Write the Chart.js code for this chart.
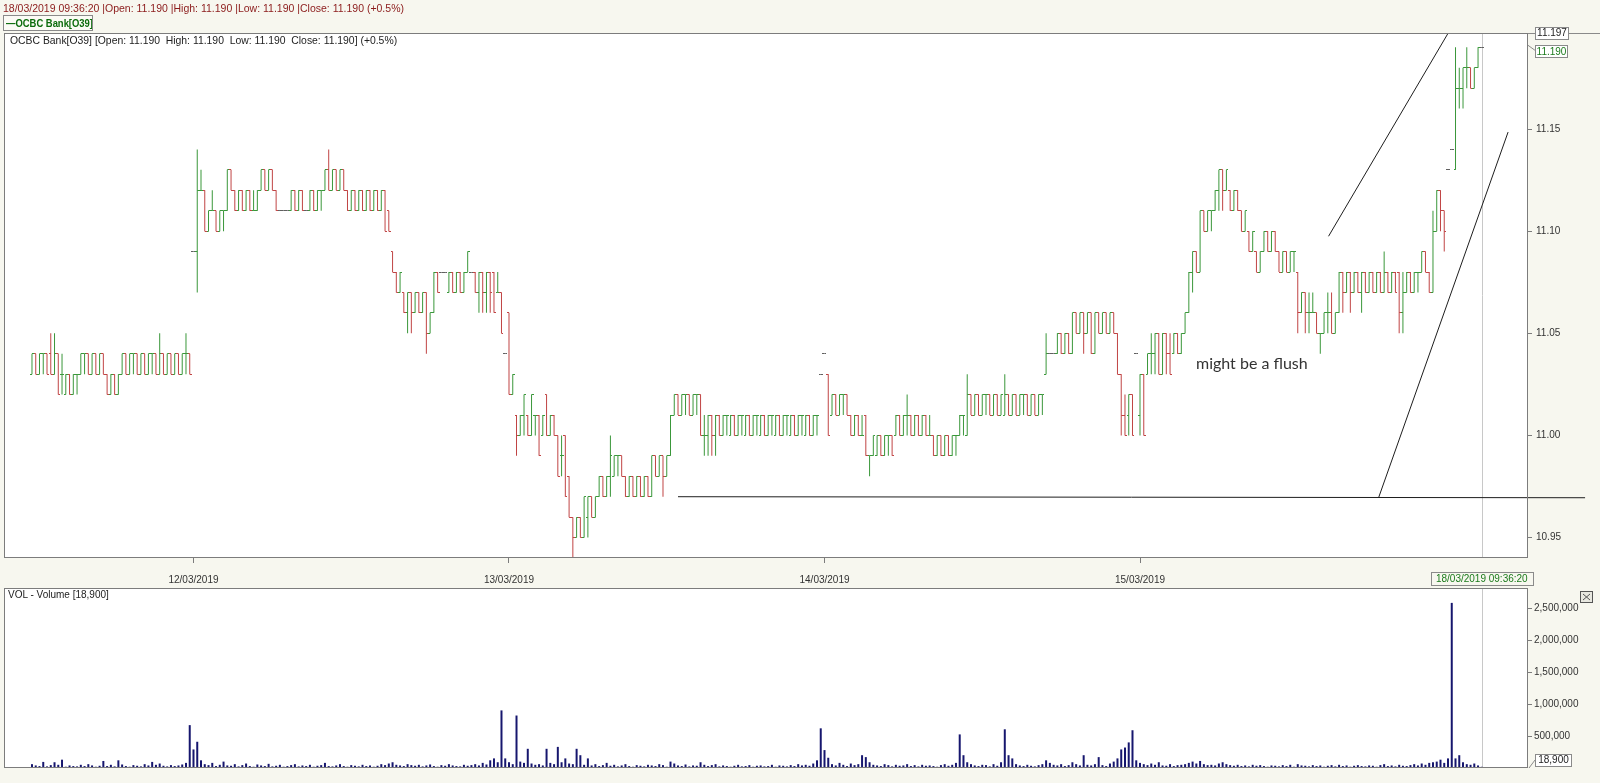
<!DOCTYPE html>
<html>
<head>
<meta charset="utf-8">
<script src="https://cdn.jsdelivr.net/npm/chart.js@4.4.1/dist/chart.umd.min.js"></script>
<style>
  html, body { margin:0; padding:0; }
  body { width:1600px; height:783px; background:#f7f7ef; position:relative; overflow:hidden; font-family:"Liberation Sans", Arial, sans-serif; }
  canvas { position:absolute; left:0; top:0; }
  .t { position:absolute; white-space:pre; z-index:5; }
  #hdr { left:3px; top:2px; font-size:10.5px; color:#8b1a1a; }
  #legend { left:3px; top:15px; width:88px; height:14px; border:1px solid #8a8a8a; background:#fbfbf5; overflow:hidden; }
  #legend span { position:absolute; left:2px; top:0; font-size:11.5px; font-weight:bold; color:#0b6b0b; line-height:14px; transform:scaleX(0.82); transform-origin:0 50%; }
  #info { left:10px; top:35px; font-size:10.4px; color:#222; }
  #vol { left:8px; top:589px; font-size:10px; color:#222; }
</style>
</head>
<body>
<canvas id="c1" width="1600" height="783"></canvas>
<canvas id="c2" width="1600" height="783"></canvas>
<div class="t" id="hdr">18/03/2019 09:36:20 |Open: 11.190 |High: 11.190 |Low: 11.190 |Close: 11.190 (+0.5%)</div>
<div class="t" id="legend"><span>&#8212;OCBC Bank[O39]</span></div>
<div class="t" id="info">OCBC Bank[O39] [Open: 11.190  High: 11.190  Low: 11.190  Close: 11.190] (+0.5%)</div>
<div class="t" id="vol">VOL - Volume [18,900]</div>
<script>
// ---------------- DATA ----------------
const dayLabels = ['12/03/2019', '13/03/2019', '14/03/2019', '15/03/2019'];
const dayTickIdx = [43, 127, 211, 295];
const priceTicks = [10.95, 11.00, 11.05, 11.10, 11.15];
const volTicks = [500000, 1000000, 1500000, 2000000, 2500000];
const crossLabel = '18/03/2019 09:36:20';

// 5-minute bars: [open, high, low, close]
const ohlc_11_03 = [
[11.03,11.04,11.03,11.04],[11.04,11.04,11.03,11.03],[11.03,11.04,11.03,11.04],[11.04,11.04,11.03,11.04],[11.04,11.04,11.03,11.03],
[11.04,11.05,11.03,11.03],[11.03,11.05,11.03,11.04],[11.04,11.04,11.02,11.02],[11.03,11.04,11.02,11.03],[11.02,11.03,11.02,11.03],
[11.03,11.03,11.02,11.02],[11.02,11.03,11.02,11.03],[11.03,11.03,11.02,11.03],[11.03,11.04,11.03,11.04],[11.04,11.04,11.03,11.04],
[11.04,11.04,11.03,11.03],[11.03,11.04,11.03,11.04],[11.04,11.04,11.03,11.03],[11.03,11.04,11.03,11.04],[11.04,11.04,11.03,11.03],
[11.03,11.03,11.02,11.02],[11.02,11.03,11.02,11.03],[11.03,11.03,11.02,11.02],[11.02,11.03,11.02,11.03],[11.03,11.04,11.03,11.04],
[11.04,11.04,11.03,11.03],[11.03,11.04,11.03,11.04],[11.04,11.04,11.03,11.04],[11.04,11.04,11.03,11.03],[11.03,11.04,11.03,11.04],
[11.04,11.04,11.03,11.03],[11.03,11.04,11.03,11.04],[11.04,11.04,11.03,11.04],[11.04,11.04,11.03,11.03],[11.03,11.05,11.03,11.04],
[11.04,11.04,11.03,11.03],[11.03,11.04,11.03,11.04],[11.04,11.04,11.03,11.03],[11.03,11.04,11.03,11.04],[11.04,11.04,11.03,11.03],
[11.03,11.04,11.03,11.04],[11.04,11.05,11.03,11.04],[11.04,11.04,11.03,11.03]
];
const ohlc_12_03 = [
[11.09,11.09,11.09,11.09],[11.09,11.14,11.07,11.12],[11.12,11.13,11.12,11.12],[11.12,11.12,11.10,11.10],[11.10,11.11,11.10,11.11],
[11.11,11.12,11.11,11.11],[11.11,11.11,11.10,11.10],[11.10,11.11,11.10,11.11],[11.11,11.11,11.10,11.11],[11.11,11.13,11.11,11.13],
[11.13,11.13,11.12,11.12],[11.12,11.12,11.11,11.11],[11.11,11.12,11.11,11.12],[11.12,11.12,11.11,11.11],[11.11,11.12,11.11,11.12],
[11.12,11.12,11.11,11.11],[11.11,11.12,11.11,11.11],[11.11,11.12,11.11,11.12],[11.12,11.13,11.12,11.13],[11.13,11.13,11.12,11.12],
[11.12,11.13,11.12,11.13],[11.13,11.13,11.12,11.12],[11.12,11.12,11.11,11.11],[11.11,11.11,11.11,11.11],[11.11,11.11,11.11,11.11],
[11.11,11.11,11.11,11.11],[11.11,11.12,11.11,11.12],[11.12,11.12,11.11,11.11],[11.11,11.12,11.11,11.12],[11.12,11.12,11.11,11.11],
[11.11,11.11,11.11,11.11],[11.11,11.12,11.11,11.12],[11.12,11.12,11.11,11.11],[11.11,11.12,11.11,11.12],[11.12,11.12,11.11,11.12],
[11.12,11.13,11.12,11.13],[11.13,11.14,11.12,11.12],[11.12,11.13,11.12,11.13],[11.13,11.13,11.12,11.12],[11.12,11.13,11.12,11.13],
[11.13,11.13,11.12,11.12],[11.12,11.12,11.11,11.11],[11.11,11.12,11.11,11.12],[11.12,11.12,11.11,11.11],[11.11,11.12,11.11,11.12],
[11.12,11.12,11.11,11.11],[11.11,11.12,11.11,11.12],[11.12,11.12,11.11,11.11],[11.11,11.12,11.11,11.12],[11.12,11.12,11.11,11.11],
[11.11,11.12,11.11,11.12],[11.12,11.12,11.10,11.10],[11.11,11.11,11.10,11.10],[11.09,11.09,11.08,11.08],[11.08,11.08,11.07,11.07],
[11.07,11.08,11.07,11.08],[11.07,11.07,11.06,11.06],[11.06,11.07,11.05,11.07],[11.07,11.07,11.05,11.06],[11.06,11.07,11.06,11.07],
[11.07,11.07,11.06,11.06],[11.06,11.07,11.06,11.07],[11.07,11.07,11.04,11.05],[11.05,11.06,11.05,11.06],[11.06,11.08,11.06,11.08],
[11.08,11.08,11.07,11.07],[11.08,11.08,11.08,11.08],[11.08,11.08,11.08,11.08],[11.07,11.08,11.07,11.08],[11.08,11.08,11.07,11.07],
[11.07,11.08,11.07,11.08],[11.08,11.08,11.07,11.07],[11.07,11.08,11.07,11.08],[11.08,11.09,11.08,11.09],[11.08,11.08,11.08,11.08],
[11.08,11.08,11.07,11.07],[11.07,11.08,11.06,11.08],[11.08,11.08,11.06,11.07],[11.07,11.08,11.06,11.08],[11.08,11.08,11.06,11.07],
[11.08,11.08,11.06,11.06],[11.07,11.08,11.07,11.07],[11.07,11.07,11.05,11.05]
];
const ohlc_13_03 = [
[11.04,11.04,11.04,11.04],[11.06,11.06,11.02,11.02],[11.02,11.03,11.02,11.03],[11.01,11.01,10.99,11.00],[11.00,11.01,11.00,11.01],
[11.01,11.02,11.00,11.02],[11.01,11.01,11.00,11.00],[11.00,11.02,11.00,11.02],[11.01,11.01,11.00,11.01],[11.01,11.01,10.99,10.99],
[11.00,11.01,11.00,11.01],[11.02,11.02,11.00,11.00],[11.00,11.01,11.00,11.01],[11.01,11.01,11.00,11.00],[11.00,11.00,10.98,10.98],
[10.99,11.00,10.98,10.99],[11.00,11.00,10.97,10.97],[10.98,10.98,10.96,10.96],[10.96,10.96,10.94,10.95],[10.95,10.96,10.95,10.96],
[10.96,10.96,10.95,10.95],[10.95,10.97,10.95,10.97],[10.96,10.97,10.95,10.97],[10.97,10.97,10.96,10.96],[10.96,10.97,10.96,10.97],
[10.97,10.98,10.97,10.98],[10.98,10.98,10.97,10.97],[10.97,10.98,10.97,10.98],[10.98,11.00,10.97,10.99],[10.98,10.99,10.98,10.99],
[10.99,10.99,10.98,10.99],[10.99,10.99,10.98,10.98],[10.98,10.98,10.97,10.97],[10.97,10.98,10.97,10.98],[10.98,10.98,10.97,10.97],
[10.97,10.98,10.97,10.98],[10.98,10.98,10.97,10.97],[10.97,10.98,10.97,10.98],[10.98,10.98,10.97,10.97],[10.97,10.99,10.97,10.99],
[10.99,10.99,10.98,10.98],[10.98,10.99,10.98,10.99],[10.99,10.99,10.97,10.98],[10.98,10.99,10.98,10.99],[10.99,11.01,10.99,11.01],
[11.01,11.02,11.01,11.02],[11.02,11.02,11.01,11.01],[11.01,11.02,11.01,11.02],[11.02,11.02,11.01,11.02],[11.02,11.02,11.01,11.01],
[11.01,11.02,11.01,11.02],[11.02,11.02,11.01,11.02],[11.02,11.02,11.00,11.00],[11.00,11.01,10.99,11.00],[11.00,11.01,10.99,11.01],
[11.01,11.01,10.99,11.00],[11.00,11.01,10.99,11.01],[11.01,11.01,11.00,11.00],
[11.00,11.01,11.00,11.01],[11.01,11.01,11.00,11.01],[11.00,11.01,11.00,11.01],[11.01,11.01,11.00,11.00],
[11.00,11.01,11.00,11.01],[11.01,11.01,11.00,11.01],[11.00,11.01,11.00,11.01],[11.01,11.01,11.00,11.00],
[11.00,11.01,11.00,11.01],[11.01,11.01,11.00,11.01],[11.00,11.01,11.00,11.01],[11.01,11.01,11.00,11.00],
[11.00,11.01,11.00,11.01],[11.01,11.01,11.00,11.01],[11.00,11.01,11.00,11.01],[11.01,11.01,11.00,11.00],
[11.00,11.01,11.00,11.01],[11.01,11.01,11.00,11.01],[11.00,11.01,11.00,11.01],[11.01,11.01,11.00,11.00],
[11.00,11.01,11.00,11.01],[11.01,11.01,11.00,11.01],[11.00,11.01,11.00,11.01],[11.01,11.01,11.00,11.00],
[11.00,11.01,11.00,11.01],[11.01,11.01,11.00,11.01],[11.03,11.03,11.03,11.03]
];
const ohlc_14_03 = [
[11.04,11.04,11.04,11.04],[11.03,11.03,11.00,11.00],[11.01,11.02,11.01,11.02],[11.02,11.02,11.01,11.01],[11.01,11.02,11.01,11.02],
[11.02,11.02,11.01,11.02],[11.02,11.02,11.01,11.01],[11.01,11.01,11.00,11.00],[11.00,11.01,11.00,11.01],[11.01,11.01,11.00,11.00],
[11.00,11.01,11.00,11.00],[11.01,11.01,10.99,10.99],[10.99,10.99,10.98,10.99],[10.99,11.00,10.99,11.00],[10.99,11.00,10.99,11.00],
[11.00,11.00,10.99,10.99],[10.99,11.00,10.99,11.00],[11.00,11.00,10.99,11.00],[11.00,11.00,10.99,10.99],[11.00,11.01,11.00,11.01],
[11.01,11.01,11.00,11.00],[11.00,11.01,11.00,11.01],[11.01,11.02,11.00,11.01],[11.01,11.01,11.00,11.00],[11.00,11.01,11.00,11.01],
[11.01,11.01,11.00,11.00],[11.00,11.01,11.00,11.01],[11.01,11.01,11.00,11.00],[11.00,11.01,11.00,11.00],[11.00,11.00,10.99,10.99],
[10.99,11.00,10.99,11.00],[11.00,11.00,10.99,10.99],[10.99,11.00,10.99,11.00],[11.00,11.00,10.99,10.99],[10.99,11.00,10.99,11.00],
[11.00,11.00,10.99,11.00],[11.00,11.01,11.00,11.01],[11.01,11.01,11.00,11.01],[11.00,11.03,11.00,11.02],[11.02,11.02,11.01,11.01],
[11.01,11.02,11.01,11.02],[11.02,11.02,11.01,11.01],[11.01,11.02,11.01,11.02],[11.02,11.02,11.01,11.02],[11.02,11.02,11.01,11.01],
[11.01,11.02,11.01,11.02],[11.02,11.02,11.01,11.01],[11.01,11.02,11.01,11.02],[11.01,11.03,11.01,11.02],[11.02,11.02,11.01,11.01],
[11.01,11.02,11.01,11.02],[11.02,11.02,11.01,11.01],[11.01,11.02,11.01,11.02],[11.02,11.02,11.01,11.02],[11.02,11.02,11.01,11.01],
[11.01,11.02,11.01,11.02],[11.02,11.02,11.01,11.01],[11.01,11.02,11.01,11.02],[11.02,11.02,11.01,11.02],[11.03,11.05,11.03,11.04],
[11.04,11.04,11.04,11.04],[11.04,11.04,11.04,11.04],[11.04,11.05,11.04,11.05],[11.05,11.05,11.04,11.04],[11.04,11.05,11.04,11.05],
[11.05,11.05,11.04,11.04],[11.04,11.06,11.04,11.06],[11.06,11.06,11.05,11.05],[11.05,11.06,11.05,11.06],[11.06,11.06,11.04,11.05],
[11.05,11.06,11.05,11.06],[11.06,11.06,11.04,11.04],[11.04,11.06,11.04,11.06],[11.06,11.06,11.05,11.05],[11.05,11.06,11.05,11.06],
[11.06,11.06,11.05,11.05],[11.05,11.06,11.05,11.06],[11.06,11.06,11.05,11.05],[11.05,11.05,11.03,11.03],[11.03,11.03,11.00,11.01],
[11.01,11.02,11.00,11.00],[11.01,11.02,11.00,11.02],[11.02,11.02,11.00,11.00]
];
const ohlc_15_03 = [
[11.04,11.04,11.04,11.04],[11.01,11.03,11.00,11.03],[11.03,11.03,11.00,11.00],[11.03,11.04,11.03,11.04],[11.04,11.05,11.03,11.04],
[11.04,11.05,11.03,11.05],[11.05,11.05,11.03,11.03],[11.03,11.05,11.03,11.05],[11.05,11.05,11.03,11.04],[11.04,11.05,11.03,11.03],
[11.04,11.05,11.04,11.05],[11.05,11.05,11.04,11.04],[11.04,11.05,11.04,11.05],[11.05,11.06,11.05,11.06],[11.06,11.08,11.06,11.08],
[11.08,11.09,11.07,11.09],[11.09,11.09,11.08,11.08],[11.08,11.11,11.08,11.11],[11.11,11.11,11.10,11.10],[11.10,11.11,11.10,11.11],
[11.11,11.11,11.10,11.11],[11.11,11.12,11.11,11.12],[11.12,11.13,11.11,11.13],[11.13,11.13,11.11,11.12],[11.12,11.13,11.12,11.13],
[11.12,11.12,11.11,11.11],[11.11,11.12,11.11,11.12],[11.12,11.12,11.11,11.11],[11.11,11.11,11.10,11.10],[11.10,11.11,11.10,11.11],
[11.10,11.10,11.09,11.09],[11.09,11.10,11.09,11.10],[11.09,11.09,11.08,11.08],[11.08,11.09,11.08,11.09],[11.09,11.10,11.09,11.10],
[11.10,11.10,11.09,11.09],[11.09,11.10,11.09,11.10],[11.10,11.10,11.09,11.09],[11.09,11.09,11.08,11.08],[11.08,11.09,11.08,11.09],
[11.09,11.09,11.08,11.08],[11.08,11.09,11.08,11.09],[11.09,11.09,11.08,11.09],[11.08,11.08,11.05,11.06],[11.06,11.07,11.06,11.07],
[11.07,11.07,11.05,11.06],[11.06,11.07,11.05,11.06],[11.06,11.07,11.06,11.06],[11.06,11.06,11.05,11.05],[11.05,11.05,11.04,11.05],
[11.05,11.06,11.05,11.06],[11.06,11.07,11.05,11.06],[11.06,11.07,11.05,11.05],[11.05,11.06,11.05,11.06],[11.06,11.08,11.06,11.08],
[11.08,11.08,11.06,11.07],[11.07,11.08,11.07,11.08],[11.08,11.08,11.06,11.07],[11.07,11.08,11.07,11.08],[11.08,11.08,11.07,11.07],
[11.07,11.08,11.06,11.08],[11.08,11.08,11.07,11.07],[11.07,11.08,11.07,11.08],[11.08,11.08,11.07,11.07],[11.07,11.08,11.07,11.08],
[11.08,11.08,11.07,11.07],[11.07,11.09,11.07,11.08],[11.08,11.08,11.07,11.07],[11.07,11.08,11.07,11.08],[11.08,11.08,11.07,11.07],
[11.08,11.08,11.05,11.06],[11.06,11.08,11.05,11.07],[11.07,11.08,11.07,11.08],[11.08,11.08,11.07,11.07],[11.07,11.08,11.07,11.08],
[11.08,11.08,11.07,11.08],[11.08,11.09,11.08,11.09],[11.09,11.09,11.08,11.08],[11.08,11.08,11.07,11.07],[11.07,11.11,11.07,11.10],
[11.10,11.12,11.10,11.12],[11.12,11.12,11.10,11.11],[11.11,11.11,11.09,11.10],[11.13,11.13,11.13,11.13]
];
const ohlc_18_03 = [
[11.14,11.14,11.14,11.14],[11.13,11.19,11.13,11.17],[11.17,11.18,11.16,11.17],[11.17,11.18,11.16,11.18],[11.18,11.19,11.17,11.18],
[11.18,11.18,11.17,11.17],[11.17,11.18,11.17,11.18],[11.18,11.19,11.18,11.19],[11.19,11.19,11.19,11.19]
];

// volume per bar
const vol_11_03 = [60000,40000,30000,95000,25000,45000,90000,50000,130000,20000,
40000,30000,25000,50000,30000,60000,40000,20000,35000,110000,
30000,50000,25000,120000,55000,30000,20000,45000,35000,25000,
60000,40000,95000,50000,70000,35000,25000,45000,30000,40000,
55000,80000,670000];
const vol_12_03 = [290000,410000,120000,60000,45000,80000,30000,50000,100000,40000,
35000,60000,25000,45000,70000,30000,20000,55000,40000,30000,
65000,25000,35000,50000,20000,30000,45000,60000,25000,40000,
30000,50000,20000,35000,45000,80000,30000,25000,40000,60000,
30000,20000,45000,35000,25000,50000,30000,40000,20000,35000,
60000,45000,70000,90000,50000,40000,30000,60000,45000,35000,
50000,25000,40000,55000,30000,20000,45000,35000,60000,40000,
30000,25000,50000,35000,45000,60000,40000,80000,55000,120000,
150000,90000,900000];
const vol_13_03 = [150000,90000,60000,820000,100000,80000,300000,70000,50000,60000,
40000,300000,80000,60000,330000,90000,150000,70000,60000,300000,
200000,50000,150000,40000,60000,30000,45000,80000,35000,50000,
25000,40000,60000,30000,20000,45000,35000,25000,50000,40000,
30000,60000,45000,20000,100000,70000,40000,30000,55000,25000,
40000,35000,90000,50000,30000,45000,60000,25000,40000,30000,
20000,35000,50000,25000,30000,45000,20000,35000,40000,25000,
30000,50000,20000,40000,35000,25000,45000,30000,60000,40000,
50000,35000,70000,120000,620000];
const vol_14_03 = [280000,160000,60000,40000,80000,50000,30000,70000,45000,60000,
200000,170000,90000,50000,40000,30000,60000,45000,25000,50000,
35000,40000,60000,30000,45000,25000,50000,35000,40000,30000,
20000,45000,60000,35000,50000,80000,525000,200000,90000,60000,
40000,30000,50000,45000,25000,60000,35000,90000,605000,200000,
150000,60000,40000,30000,50000,35000,25000,45000,60000,120000,
80000,50000,40000,60000,30000,45000,90000,60000,40000,200000,
50000,40000,60000,170000,45000,30000,70000,100000,150000,290000,
320000,400000,590000];
const vol_15_03 = [120000,80000,60000,45000,70000,50000,90000,40000,35000,60000,
30000,45000,50000,60000,80000,100000,70000,110000,60000,45000,
50000,40000,70000,90000,60000,45000,35000,50000,30000,40000,
25000,50000,35000,45000,30000,20000,40000,35000,25000,45000,
30000,50000,20000,60000,40000,35000,25000,45000,30000,40000,
20000,35000,45000,25000,50000,30000,40000,20000,35000,45000,
30000,25000,40000,35000,20000,45000,60000,30000,40000,25000,
50000,35000,30000,45000,60000,40000,70000,50000,80000,90000,
100000,130000,80000,150000];
const vol_18_03 = [2580000,150000,200000,90000,60000,50000,70000,40000,18900];

// hand-drawn annotations (bar index, price)
const trendX1 = [172.0, 345.2, 358.5];
const trendY1 = [10.97, 11.0975, 10.9694];
const trendX2 = [413.5, 376.9, 393.0];
const trendY2 = [10.9695, 11.1965, 11.1485];
const noteText = 'might be a flush';
const noteX = 309.9, noteY = 11.0326;

// ---------------- BUILD ----------------
const bars = [].concat(ohlc_11_03, ohlc_12_03, ohlc_13_03, ohlc_14_03, ohlc_15_03, ohlc_18_03);
const vols = [].concat(vol_11_03, vol_12_03, vol_13_03, vol_14_03, vol_15_03, vol_18_03);
const lastIdx = bars.length - 1;
const X_MIN = -7.45, X_MAX = 398.3;
const UP = '#3a973a', DN = '#c04444', FLAT = '#606060';

function colorOf(b) {
  if (b[1] === b[2]) return FLAT;
  return b[3] < b[0] ? DN : UP;
}
function mkTick(color, left) {
  const c = document.createElement('canvas');
  c.width = 4; c.height = 1;
  const g = c.getContext('2d');
  g.fillStyle = color;
  g.fillRect(left ? 0 : 2, 0, 2, 1);
  return c;
}
const tickImg = {};
[UP, DN, FLAT].forEach(col => { tickImg[col] = { L: mkTick(col, true), R: mkTick(col, false) }; });
const barColors = bars.map(colorOf);

const panelPlugin = {
  id: 'panel',
  beforeDraw(chart) {
    const { ctx, chartArea: a } = chart;
    ctx.save();
    ctx.fillStyle = '#ffffff';
    ctx.fillRect(a.left, a.top, a.right - a.left, a.bottom - a.top);
    ctx.restore();
  },
  beforeDatasetsDraw(chart) {
    const { ctx, chartArea: a, scales } = chart;
    const x = Math.round(scales.x.getPixelForValue(lastIdx)) + 0.5;
    ctx.save();
    ctx.strokeStyle = '#c8c8c8';
    ctx.lineWidth = 1;
    ctx.beginPath(); ctx.moveTo(x, a.top); ctx.lineTo(x, a.bottom); ctx.stroke();
    ctx.restore();
  },
  afterDraw(chart) {
    const { ctx, chartArea: a } = chart;
    ctx.save();
    ctx.strokeStyle = '#7c7c7c';
    ctx.lineWidth = 1;
    ctx.strokeRect(a.left + 0.5, a.top + 0.5, a.right - a.left - 1, a.bottom - a.top - 1);
    ctx.restore();
  }
};

const pricePlugin = {
  id: 'priceExtras',
  afterDatasetsDraw(chart) {
    const { ctx, scales: { x, y } } = chart;
    ctx.save();
    ctx.strokeStyle = '#1e1e1e';
    ctx.lineWidth = 1;
    for (let k = 0; k < trendX1.length; k++) {
      ctx.beginPath();
      ctx.moveTo(x.getPixelForValue(trendX1[k]), y.getPixelForValue(trendY1[k]));
      ctx.lineTo(x.getPixelForValue(trendX2[k]), y.getPixelForValue(trendY2[k]));
      ctx.stroke();
    }
    ctx.font = '16px Lato, "Open Sans", sans-serif';
    ctx.fillStyle = '#333333';
    ctx.textBaseline = 'alphabetic';
    ctx.fillText(noteText, x.getPixelForValue(noteX), y.getPixelForValue(noteY));
    ctx.restore();
  },
  afterDraw(chart) {
    const { ctx, chartArea: a, scales: { x, y } } = chart;
    ctx.save();
    ctx.font = '10px "Liberation Sans", Arial, sans-serif';
    ctx.textAlign = 'center';
    ctx.textBaseline = 'middle';
    const topY = Math.round(y.getPixelForValue(y.max)) + 0.5;
    ctx.strokeStyle = '#8a8a8a';
    ctx.lineWidth = 1;
    ctx.beginPath(); ctx.moveTo(a.right, topY); ctx.lineTo(1600, topY); ctx.stroke();
    ctx.fillStyle = '#ffffff';
    ctx.fillRect(1535, topY - 6.5, 34, 13);
    ctx.strokeRect(1535.5, topY - 6, 33, 12);
    ctx.fillStyle = '#222';
    ctx.fillText(y.max.toFixed(3), 1552, topY);
    const lastClose = bars[lastIdx][3];
    const ly = y.getPixelForValue(lastClose);
    ctx.beginPath(); ctx.moveTo(a.right, ly - 2); ctx.lineTo(1535, ly + 3); ctx.stroke();
    ctx.fillStyle = '#ffffff';
    ctx.fillRect(1535, ly - 2.5, 33, 13);
    ctx.strokeRect(1535.5, Math.round(ly - 2) + 0.5, 32, 12);
    ctx.fillStyle = '#1b7a1b';
    ctx.fillText(lastClose.toFixed(3), 1551.5, ly + 4.5);
    const cx = x.getPixelForValue(lastIdx);
    ctx.fillStyle = '#f7f7ef';
    ctx.fillRect(cx - 51, a.bottom + 14, 102, 14);
    ctx.strokeStyle = '#8a8a8a';
    ctx.strokeRect(Math.round(cx - 51) + 0.5, a.bottom + 14.5, 102, 13);
    ctx.fillStyle = '#1b7a1b';
    ctx.fillText(crossLabel, cx, a.bottom + 21.5);
    ctx.restore();
  }
};

const volPlugin = {
  id: 'volExtras',
  afterDraw(chart) {
    const { ctx, chartArea: a } = chart;
    ctx.save();
    ctx.font = '10px "Liberation Sans", Arial, sans-serif';
    ctx.textAlign = 'center';
    ctx.textBaseline = 'middle';
    ctx.strokeStyle = '#8a8a8a';
    ctx.lineWidth = 1;
    const lv = vols[lastIdx];
    ctx.beginPath(); ctx.moveTo(a.right + 1, a.bottom); ctx.lineTo(1535, a.bottom - 8); ctx.stroke();
    ctx.fillStyle = '#ffffff';
    ctx.fillRect(1535, a.bottom - 14, 37, 13);
    ctx.strokeRect(1535.5, a.bottom - 13.5, 36, 12);
    ctx.fillStyle = '#222';
    ctx.fillText(lv.toLocaleString('en-US'), 1553.5, a.bottom - 7.5);
    ctx.fillStyle = '#e8e8e0';
    ctx.fillRect(1580, a.top + 3, 13, 12);
    ctx.strokeStyle = '#555';
    ctx.strokeRect(1580.5, a.top + 3.5, 12, 11);
    ctx.beginPath();
    ctx.moveTo(1583, a.top + 6); ctx.lineTo(1590, a.top + 12);
    ctx.moveTo(1590, a.top + 6); ctx.lineTo(1583, a.top + 12);
    ctx.stroke();
    ctx.restore();
  }
};

const font10 = { family: '"Liberation Sans", Arial, sans-serif', size: 10 };

new Chart(document.getElementById('c1'), {
  type: 'bar',
  data: {
    datasets: [
      {
        type: 'bar',
        data: bars.map((b, i) => ({ x: i, y: [b[2], b[1]] })),
        backgroundColor: barColors,
        barThickness: 1,
        inflateAmount: 0,
        borderWidth: 0,
        order: 2
      },
      {
        type: 'line',
        data: bars.map((b, i) => ({ x: i, y: b[0] })),
        showLine: false,
        pointRadius: 2, pointHoverRadius: 2, pointBorderWidth: 0,
        pointStyle: c => tickImg[barColors[c.dataIndex]].L,
        order: 1
      },
      {
        type: 'line',
        data: bars.map((b, i) => ({ x: i, y: b[3] })),
        showLine: false,
        pointRadius: 2, pointHoverRadius: 2, pointBorderWidth: 0,
        pointStyle: c => tickImg[barColors[c.dataIndex]].R,
        order: 1
      }
    ]
  },
  options: {
    responsive: false, animation: false, devicePixelRatio: 1, events: [],
    layout: { padding: { left: 4, top: 33, right: 0, bottom: 197 } },
    plugins: { legend: { display: false }, tooltip: { enabled: false } },
    scales: {
      x: {
        type: 'linear', min: X_MIN, max: X_MAX, offset: false,
        grid: { display: true, offset: false, drawOnChartArea: false, drawTicks: true, tickLength: 5, color: '#7c7c7c' },
        border: { display: false },
        afterBuildTicks: s => { s.ticks = dayTickIdx.map(v => ({ value: v })); },
        ticks: { autoSkip: false, maxRotation: 0, padding: 11, color: '#333', font: font10,
                 callback: (v, i) => dayLabels[i] },
        afterFit: s => { s.height = 28; }
      },
      y: {
        type: 'linear', position: 'right', min: 10.94, max: 11.197,
        grid: { drawOnChartArea: false, drawTicks: true, tickLength: 4, color: '#7c7c7c' },
        border: { display: false },
        afterBuildTicks: s => { s.ticks = priceTicks.map(v => ({ value: v })); },
        ticks: { padding: 4, color: '#333', font: font10, callback: v => v.toFixed(2) },
        afterFit: s => { s.width = 72; }
      }
    }
  },
  plugins: [panelPlugin, pricePlugin]
});

new Chart(document.getElementById('c2'), {
  type: 'bar',
  data: {
    datasets: [{
      data: vols.map((v, i) => ({ x: i, y: v })),
      backgroundColor: '#16166e',
      barThickness: 2,
      inflateAmount: 0,
      borderWidth: 0
    }]
  },
  options: {
    responsive: false, animation: false, devicePixelRatio: 1, events: [],
    layout: { padding: { left: 4, top: 588, right: 0, bottom: 15 } },
    plugins: { legend: { display: false }, tooltip: { enabled: false } },
    scales: {
      x: { type: 'linear', min: X_MIN, max: X_MAX, offset: false, display: false, grid: { offset: false } },
      y: {
        type: 'linear', position: 'right', min: 0, max: 2812500,
        grid: { drawOnChartArea: false, drawTicks: true, tickLength: 4, color: '#7c7c7c' },
        border: { display: false },
        afterBuildTicks: s => { s.ticks = volTicks.map(v => ({ value: v })); },
        ticks: { padding: 2, color: '#333', font: font10, callback: v => v.toLocaleString('en-US') },
        afterFit: s => { s.width = 72; }
      }
    }
  },
  plugins: [panelPlugin, volPlugin]
});
</script>
</body>
</html>
